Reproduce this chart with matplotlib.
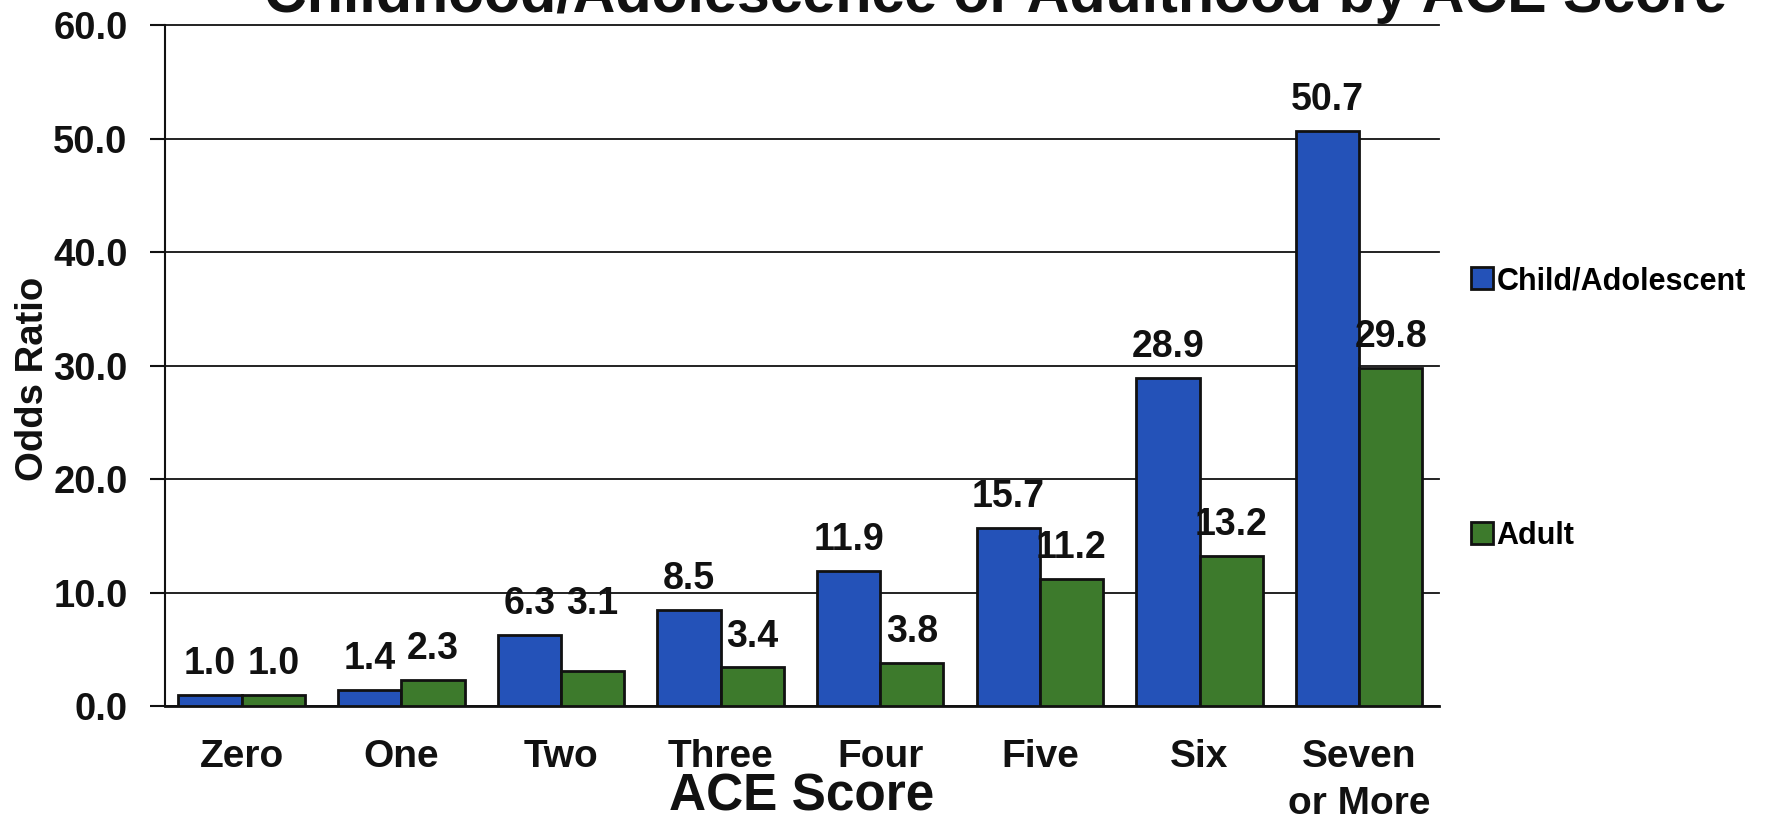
import numpy as np
import matplotlib
matplotlib.use("Agg")
import matplotlib.pyplot as plt
from matplotlib.patches import Patch

# data
categories = ["Zero", "One", "Two", "Three", "Four", "Five", "Six", "Seven\nor More"]
child_or = [1.0, 1.4, 6.3, 8.5, 11.9, 15.7, 28.9, 50.7]
adult_or = [1.0, 2.3, 3.1, 3.4, 3.8, 11.2, 13.2, 29.8]
series_names = ["Child/Adolescent", "Adult"]
yticks = [0, 10, 20, 30, 40, 50, 60]

title = "Childhood/Adolescence or Adulthood by ACE Score"

BLUE = "#2452b8"
GREEN = "#3d7a2c"
INK = "#111111"

plt.rcParams["font.family"] = ["Liberation Sans", "DejaVu Sans"]
plt.rcParams["font.weight"] = "bold"

fig = plt.figure(figsize=(17.88, 8.21), dpi=100)
ax = fig.add_axes([0.0923, 0.140, 0.7125, 0.8295])

x = np.arange(len(categories))
w = 0.396
b1 = ax.bar(x - w / 2, child_or, w, color=BLUE, edgecolor=INK, linewidth=2, zorder=3)
b2 = ax.bar(x + w / 2, adult_or, w, color=GREEN, edgecolor=INK, linewidth=2, zorder=3)

# value labels; the "Two" adult label sits level with its neighbour in the original
for bars, vals, name in [(b1, child_or, "c"), (b2, adult_or, "a")]:
    for i, (r, v) in enumerate(zip(bars, vals)):
        y = v
        if name == "a" and categories[i] == "Two":
            y = child_or[i]
        ax.annotate(f"{v:.1f}", (r.get_x() + r.get_width() / 2, y),
                    xytext=(0, 15), textcoords="offset points",
                    ha="center", va="baseline", fontsize=27,
                    fontweight="bold", color=INK)

ax.set_xlim(-0.48, 7.5)
ax.set_ylim(0, 60)
ax.set_yticks(yticks)
ax.set_yticklabels([f"{t:.1f}" for t in yticks], fontsize=27.5, fontweight="bold", color=INK)
ax.set_xticks(x)
ax.set_xticklabels(categories, fontsize=28, fontweight="bold", color=INK, linespacing=1.37)
ax.tick_params(axis="y", length=11, width=1.5, pad=16, color=INK)
ax.tick_params(axis="x", length=0, pad=24)

ax.yaxis.grid(True, color=INK, linewidth=1.3, zorder=0)
for gl in ax.get_ygridlines():
    gl.set_clip_on(False)
ax.set_axisbelow(True)
for s in ["top", "right"]:
    ax.spines[s].set_visible(False)
ax.spines["left"].set_linewidth(1.5)
ax.spines["left"].set_color(INK)
ax.spines["bottom"].set_linewidth(2)
ax.spines["bottom"].set_color(INK)

ax.text(-0.1036, 0.48, "Odds Ratio", transform=ax.transAxes, rotation=90,
        ha="center", va="center", fontsize=27.5, fontweight="bold", color=INK)
ax.text(0.5, -0.153, "ACE Score", transform=ax.transAxes, ha="center",
        va="baseline", fontsize=37, fontweight="bold", color=INK)

fig.text(0.557, 0.985, title, ha="center", va="baseline", fontsize=42.6,
         fontweight="bold", color=INK)

handles = [Patch(facecolor=BLUE, edgecolor=INK, linewidth=2),
           Patch(facecolor=GREEN, edgecolor=INK, linewidth=2)]
fig.legend(handles, series_names, loc="upper left", bbox_to_anchor=(0.8227, 0.676),
           frameon=False, fontsize=22, handlelength=0.72, handleheight=0.72,
           handletextpad=0.12, labelspacing=7.35, borderpad=0, borderaxespad=0)

fig.savefig("out.png", dpi=100)
